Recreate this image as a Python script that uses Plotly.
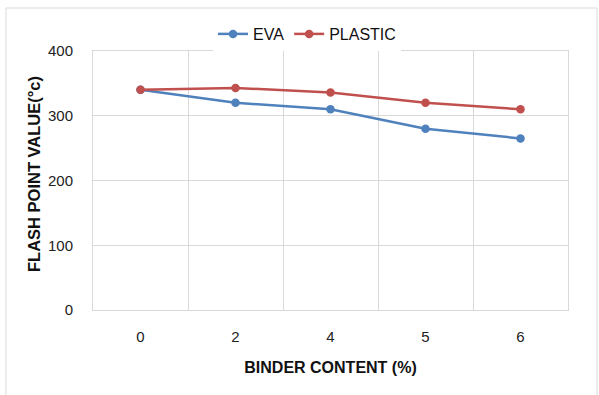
import plotly.graph_objects as go

categories = ["0", "2", "4", "5", "6"]
eva = [340, 320, 310, 280, 265]
plastic = [340, 343, 336, 320, 310]
y_ticks = [0, 100, 200, 300, 400]

fig = go.Figure()
fig.add_trace(go.Scatter(x=categories, y=eva, name="EVA", mode="lines+markers",
                         line=dict(color="#4F81BD", width=2.5),
                         marker=dict(size=8.5, color="#4F81BD")))
fig.add_trace(go.Scatter(x=categories, y=plastic, name="PLASTIC", mode="lines+markers",
                         line=dict(color="#C0504D", width=2.5),
                         marker=dict(size=8.5, color="#C0504D")))

grid = "#D9D9D9"
L, R, T, B = 93, 31, 51, 85
pw = 599 - L - R
ph = 395 - T - B
fig.update_layout(
    width=599, height=395,
    margin=dict(l=L, r=R, t=T, b=B),
    paper_bgcolor="white", plot_bgcolor="white",
    font=dict(family="Liberation Sans, Arial, sans-serif", size=15, color="#222"),
    showlegend=True,
    legend=dict(orientation="h", x=(213 - L) / pw, xanchor="left", y=1.0, yanchor="bottom",
                font=dict(size=16, color="#111"), tracegroupgap=0),
    xaxis=dict(type="category", range=[-0.5, 4.5], tickson="boundaries",
               showgrid=True, gridcolor=grid, gridwidth=1,
               showline=True, linecolor=grid, linewidth=1, mirror=True,
               ticks="", ticklabelstandoff=13, tickfont=dict(size=15),
               title=dict(text="<b>BINDER CONTENT (%)</b>", font=dict(size=16, color="#111"), standoff=17),
               zeroline=False),
    yaxis=dict(range=[0, 400], tickvals=y_ticks, showgrid=True, gridcolor=grid, gridwidth=1,
               showline=True, linecolor=grid, linewidth=1, mirror=True,
               ticks="", ticklabelstandoff=16, tickfont=dict(size=15),
               zeroline=False),
)

fig.add_annotation(text="<b>FLASH POINT VALUE(°c)</b>", textangle=-90,
                   xref="paper", yref="paper", x=(34 - L) / pw, y=(310 - 174) / ph,
                   xanchor="center", yanchor="middle", showarrow=False,
                   font=dict(size=16.5, color="#111"))

# outer border of chart area
fig.add_shape(type="rect", xref="paper", yref="paper",
              x0=(6 - L) / pw, x1=(597 - L) / pw,
              y0=-(400 - 395 + B) / ph,
              y1=(395 - B - 8) / ph,
              line=dict(color="#D9D9D9", width=1), layer="below")

fig.write_html("out.html")
